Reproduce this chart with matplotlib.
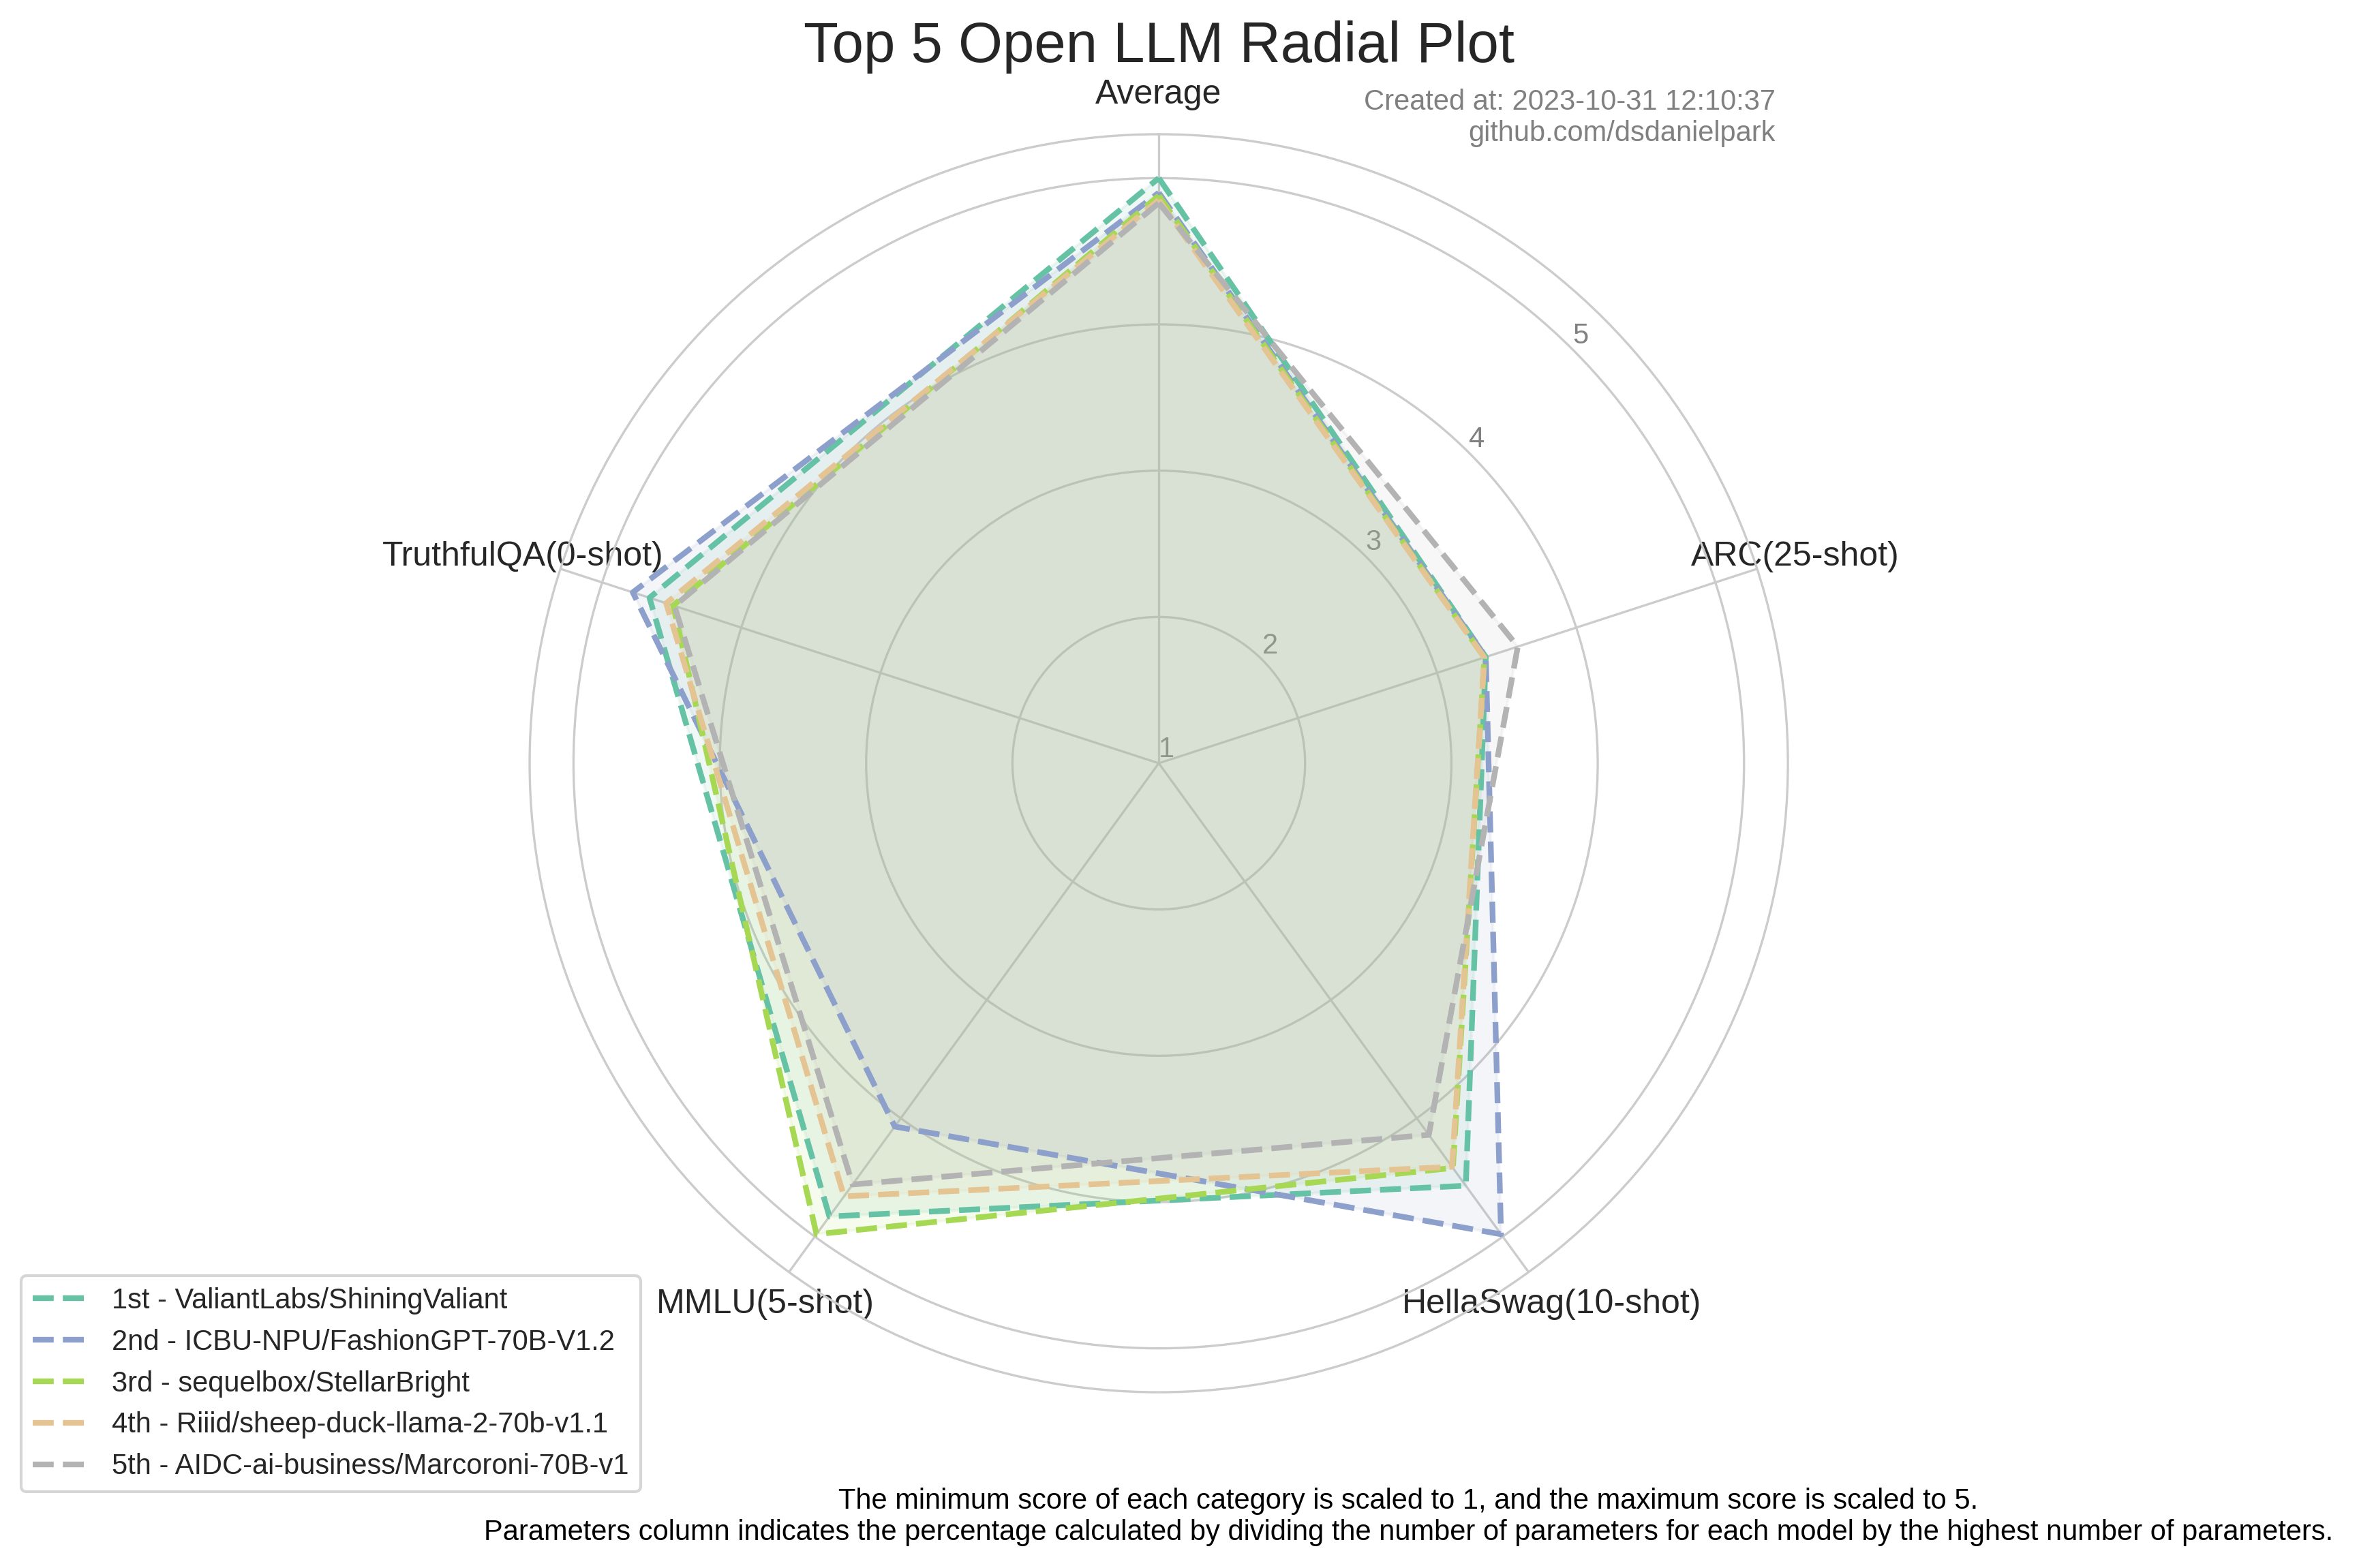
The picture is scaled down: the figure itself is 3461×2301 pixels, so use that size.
import numpy as np
import matplotlib
matplotlib.use("Agg")
import matplotlib.pyplot as plt
import seaborn as sns

sns.set_style("whitegrid")
plt.rcParams['font.family'] = ['Liberation Sans', 'DejaVu Sans']

# scaled scores (1 = min, 5 = max of each category)
categories = ["Average", "ARC(25-shot)", "HellaSwag(10-shot)", "MMLU(5-shot)", "TruthfulQA(0-shot)"]
models = [
    "1st - ValiantLabs/ShiningValiant",
    "2nd - ICBU-NPU/FashionGPT-70B-V1.2",
    "3rd - sequelbox/StellarBright",
    "4th - Riiid/sheep-duck-llama-2-70b-v1.1",
    "5th - AIDC-ai-business/Marcoroni-70B-v1",
]
average = [5.00, 4.90, 4.88, 4.85, 4.83]
arc = [3.35, 3.35, 3.34, 3.34, 3.58]
hellaswag = [4.57, 4.98, 4.42, 4.41, 4.14]
mmlu = [4.83, 4.07, 4.98, 4.66, 4.56]
truthfulqa = [4.66, 4.78, 4.49, 4.54, 4.48]

created = "Created at: 2023-10-31 12:10:37\ngithub.com/dsdanielpark"
note = ("The minimum score of each category is scaled to 1, and the maximum score is scaled to 5.\n"
        "Parameters column indicates the percentage calculated by dividing the number of parameters "
        "for each model by the highest number of parameters.")

scores = np.array([average, arc, hellaswag, mmlu, truthfulqa]).T
angles = np.linspace(0, 2 * np.pi, len(categories), endpoint=False)
colors = plt.get_cmap("Set2")(np.linspace(0, 1, len(models)))

fig = plt.figure(figsize=(11.537, 7.67), dpi=300)
ax = fig.add_axes([0.2245, 0.1121, 0.5334, 0.8023], projection="polar")
ax.set_theta_offset(np.pi / 2)
ax.set_theta_direction(-1)

for i, name in enumerate(models):
    vals = np.append(scores[i], scores[i][0])
    ang = np.append(angles, angles[0])
    ax.plot(ang, vals, linestyle="--", linewidth=2, color=colors[i], label=name)
    ax.fill(ang, vals, color=colors[i], alpha=0.1)

ax.set_xticks(angles)
ax.set_xticklabels(categories, fontsize=12, color=".15")
ax.tick_params(axis="x", pad=3.5)
ax.set_ylim(1, 5.3)
ax.set_yticks([1, 2, 3, 4, 5])
ax.set_yticklabels(["1", "2", "3", "4", "5"], fontsize=10, color="gray")
ax.set_rlabel_position(45)

fig.text(0.4912, 0.9605, "Top 5 Open LLM Radial Plot", fontsize=20, ha="center", va="baseline", color=".15")
fig.text(0.7527, 0.910, created, fontsize=10, ha="right", va="baseline", color="gray")
fig.text(0.597, 0.0178, note, fontsize=10, ha="center", va="baseline", color="black")

fig.legend(loc="lower left", bbox_to_anchor=(0.009, 0.0487), borderaxespad=0, fontsize=10)

plt.savefig("out.png", dpi=300)
